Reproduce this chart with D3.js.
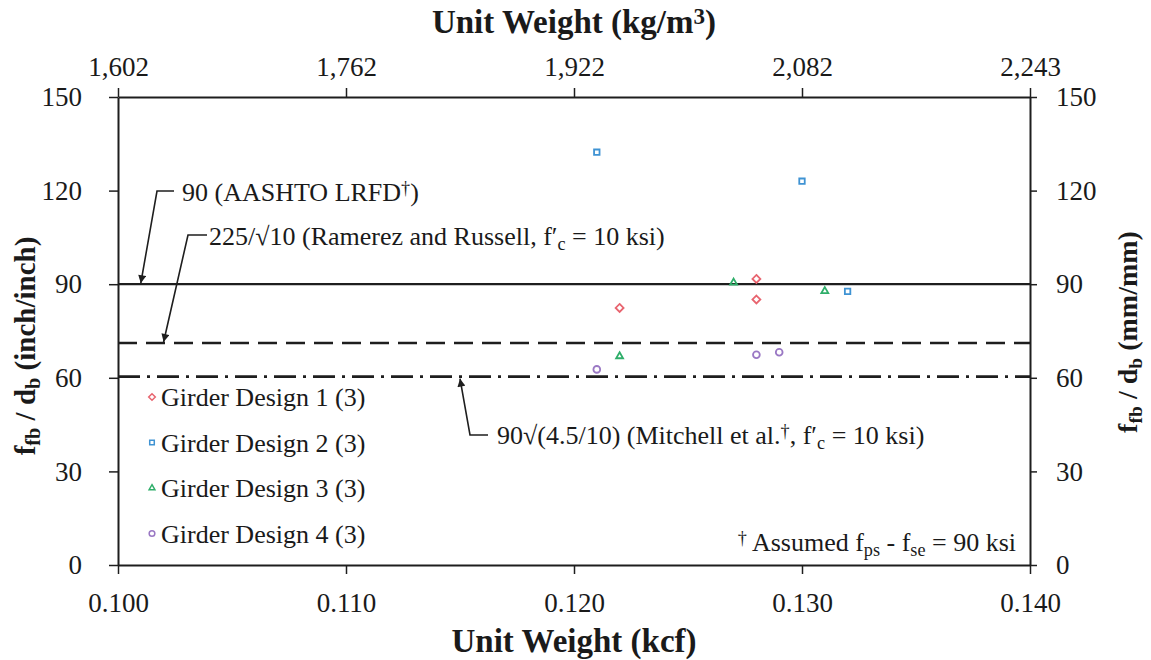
<!DOCTYPE html>
<html>
<head>
<meta charset="utf-8">
<script src="https://cdn.jsdelivr.net/npm/d3@7"></script>
<style>
  body { margin: 0; background: #fff; }
  svg text { font-family: "Liberation Serif", "Times New Roman", serif; fill: #1a1a1a; }
</style>
</head>
<body>
<svg id="chart" width="1151" height="660"></svg>
<script>
// Axis ticks
const kcfTicks = [0.100, 0.110, 0.120, 0.130, 0.140];
const kgm3TickLabels = ["1,602", "1,762", "1,922", "2,082", "2,243"];
const ratioTicks = [0, 30, 60, 90, 120, 150];

// Measured anchorage ratios (f_fb / d_b) against unit weight (kcf)
const seriesNames = ["Girder Design 1 (3)", "Girder Design 2 (3)", "Girder Design 3 (3)", "Girder Design 4 (3)"];
const design1Weight = [0.122, 0.128, 0.128];
const design1Ratio  = [82.4, 85.1, 91.7];
const design2Weight = [0.121, 0.130, 0.132];
const design2Ratio  = [132.3, 123.0, 87.7];
const design3Weight = [0.127, 0.122, 0.131];
const design3Ratio  = [90.5, 66.9, 87.8];
const design4Weight = [0.121, 0.128, 0.129];
const design4Ratio  = [62.7, 67.4, 68.2];

// Code / literature limits
const aashtoLimit = 90;
const ramirezLimit = 225 / Math.sqrt(10);
const mitchellLimit = 90 * Math.sqrt(4.5 / 10);

const W = 1151, H = 660;
const margin = { top: 97, right: 121, bottom: 95, left: 118 };
const svg = d3.select("#chart");

const x = d3.scaleLinear().domain([0.100, 0.140]).range([margin.left, W - margin.right]);
const y = d3.scaleLinear().domain([0, 150]).range([H - margin.bottom, margin.top]);

const ink = "#1e1e1e";
const tickFont = 27;
const noteFont = 26;

function styleAxis(g) {
  g.select(".domain").attr("stroke", ink).attr("stroke-width", 2);
  g.selectAll(".tick line").attr("stroke", ink).attr("stroke-width", 1.5);
  g.selectAll(".tick text").attr("font-size", tickFont).attr("fill", ink)
    .style("font-family", '"Liberation Serif", "Times New Roman", serif');
}

// Bottom axis (kcf)
svg.append("g").attr("transform", `translate(0,${y(0)})`)
  .call(d3.axisBottom(x).tickValues(kcfTicks).tickFormat(d3.format(".3f")).tickSize(9).tickSizeOuter(0).tickPadding(19))
  .call(styleAxis);

// Top axis (kg/m^3)
svg.append("g").attr("transform", `translate(0,${y(150)})`)
  .call(d3.axisTop(x).tickValues(kcfTicks).tickFormat((d, i) => kgm3TickLabels[i]).tickSize(9).tickSizeOuter(0).tickPadding(12))
  .call(styleAxis);

// Left axis (inch/inch)
svg.append("g").attr("transform", `translate(${x(0.100)},0)`)
  .call(d3.axisLeft(y).tickValues(ratioTicks).tickSize(9).tickSizeOuter(0).tickPadding(27))
  .call(styleAxis);

// Right axis (mm/mm)
svg.append("g").attr("transform", `translate(${x(0.140)},0)`)
  .call(d3.axisRight(y).tickValues(ratioTicks).tickSize(7).tickSizeOuter(0).tickPadding(19))
  .call(styleAxis);

// Helper for text with sub/superscripts
function richText(sel, parts, size) {
  parts.forEach(p => {
    const t = sel.append("tspan").text(p.t);
    if (p.sub) t.attr("baseline-shift", "-25%").attr("font-size", size * 0.7);
    if (p.sup) t.attr("baseline-shift", "40%").attr("font-size", size * 0.7);
  });
  return sel;
}

// Axis titles
richText(svg.append("text").attr("x", (x(0.1) + x(0.14)) / 2).attr("y", 33)
  .attr("text-anchor", "middle").attr("font-size", 33).attr("font-weight", "bold"),
  [{ t: "Unit Weight (kg/m" }, { t: "3", sup: true }, { t: ")" }], 33);

svg.append("text").attr("x", (x(0.1) + x(0.14)) / 2).attr("y", 652)
  .attr("text-anchor", "middle").attr("font-size", 33).attr("font-weight", "bold")
  .text("Unit Weight (kcf)");

richText(svg.append("text").attr("transform", "translate(35,346) rotate(-90)")
  .attr("text-anchor", "middle").attr("font-size", 29).attr("font-weight", "bold"),
  [{ t: "f" }, { t: "fb", sub: true }, { t: " / d" }, { t: "b", sub: true }, { t: " (inch/inch)" }], 29);

richText(svg.append("text").attr("transform", "translate(1137,332) rotate(-90)")
  .attr("text-anchor", "middle").attr("font-size", 28).attr("font-weight", "bold"),
  [{ t: "f" }, { t: "fb", sub: true }, { t: " / d" }, { t: "b", sub: true }, { t: " (mm/mm)" }], 28);

// Limit lines
const plot = svg.append("g");
plot.append("line").attr("x1", x(0.1)).attr("x2", x(0.14))
  .attr("y1", y(aashtoLimit)).attr("y2", y(aashtoLimit))
  .attr("stroke", ink).attr("stroke-width", 2.2);
plot.append("line").attr("x1", x(0.1)).attr("x2", x(0.14))
  .attr("y1", y(ramirezLimit)).attr("y2", y(ramirezLimit))
  .attr("stroke", ink).attr("stroke-width", 2.6).attr("stroke-dasharray", "19 9");
plot.append("line").attr("x1", x(0.1)).attr("x2", x(0.14))
  .attr("y1", y(mitchellLimit)).attr("y2", y(mitchellLimit))
  .attr("stroke", ink).attr("stroke-width", 2.6).attr("stroke-dasharray", "22 7 3 7");

// Arrowhead
svg.append("defs").append("marker").attr("id", "arrow")
  .attr("viewBox", "0 0 10 10").attr("refX", 10).attr("refY", 5)
  .attr("markerWidth", 11).attr("markerHeight", 8).attr("markerUnits", "userSpaceOnUse")
  .attr("orient", "auto")
  .append("path").attr("d", "M0,0 L10,5 L0,10 Z").attr("fill", ink);

const leader = d3.line();
function annotation(points, textX, textY, parts) {
  svg.append("path").attr("d", leader(points)).attr("fill", "none")
    .attr("stroke", ink).attr("stroke-width", 1.6).attr("marker-end", "url(#arrow)");
  richText(svg.append("text").attr("x", textX).attr("y", textY).attr("font-size", noteFont), parts, noteFont);
}

annotation([[174, 191], [157, 191], [x(0.1010), y(aashtoLimit) - 1]], 182, 201,
  [{ t: "90 (AASHTO LRFD" }, { t: "†", sup: true }, { t: ")" }]);
annotation([[207, 235], [188, 235], [x(0.1020), y(ramirezLimit) - 1]], 209, 245,
  [{ t: "225/√10 (Ramerez and Russell, f′" }, { t: "c", sub: true }, { t: " = 10 ksi)" }]);
annotation([[488, 435], [470, 435], [x(0.1150), y(mitchellLimit) + 2]], 497, 444,
  [{ t: "90√(4.5/10) (Mitchell et al." }, { t: "†", sup: true }, { t: ", f′" }, { t: "c", sub: true }, { t: " = 10 ksi)" }]);

// Footnote
richText(svg.append("text").attr("x", 1016).attr("y", 551).attr("text-anchor", "end").attr("font-size", noteFont),
  [{ t: "†", sup: true }, { t: " Assumed f" }, { t: "ps", sub: true }, { t: " - f" }, { t: "se", sub: true }, { t: " = 90 ksi" }], noteFont);

// Data series
const seriesList = [
  { name: seriesNames[0], weight: design1Weight, ratio: design1Ratio, color: "#e8646f", shape: d3.symbolDiamond2, size: 40 },
  { name: seriesNames[1], weight: design2Weight, ratio: design2Ratio, color: "#3f93d3", shape: d3.symbolSquare2, size: 38 },
  { name: seriesNames[2], weight: design3Weight, ratio: design3Ratio, color: "#2fae6a", shape: d3.symbolTriangle2, size: 34 },
  { name: seriesNames[3], weight: design4Weight, ratio: design4Ratio, color: "#9a78c4", shape: d3.symbolCircle, size: 36 }
];

seriesList.forEach(s => {
  const sym = d3.symbol().type(s.shape).size(s.size);
  svg.append("g").selectAll("path")
    .data(d3.zip(s.weight, s.ratio))
    .join("path")
    .attr("transform", d => `translate(${x(d[0])},${y(d[1])})`)
    .attr("d", sym)
    .attr("fill", "none").attr("stroke", s.color).attr("stroke-width", 1.8);
});

// Legend
const legend = svg.append("g").attr("transform", "translate(152,397)");
seriesList.forEach((s, i) => {
  const row = legend.append("g").attr("transform", `translate(0,${i * 45.5})`);
  row.append("path").attr("d", d3.symbol().type(s.shape).size(s.size * 0.7)())
    .attr("fill", "none").attr("stroke", s.color).attr("stroke-width", 1.5);
  row.append("text").attr("x", 9).attr("y", 9).attr("font-size", noteFont).text(s.name);
});
</script>
</body>
</html>
